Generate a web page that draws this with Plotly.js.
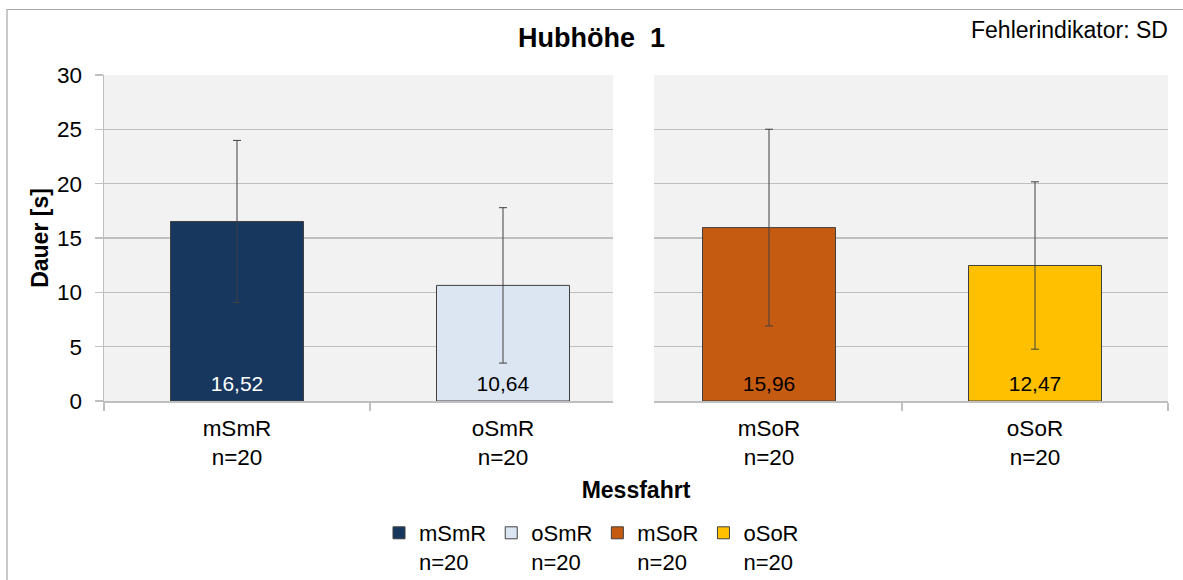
<!DOCTYPE html>
<html>
<head>
<meta charset="utf-8">
<script src="https://cdn.plot.ly/plotly-3.0.1.min.js"></script>
<style>
html,body{margin:0;padding:0;background:#fff;}
#chart{width:1183px;height:580px;}
</style>
</head>
<body>
<div id="chart"></div>
<script>
// ---- data ----
const categories = ["mSmR<br>n=20", "oSmR<br>n=20", "mSoR<br>n=20", "oSoR<br>n=20"];
const seriesNames = ["mSmR<br>n=20", "oSmR<br>n=20", "mSoR<br>n=20", "oSoR<br>n=20"];
const means = [16.52, 10.64, 15.96, 12.47];
const sds = [7.46, 7.15, 9.05, 7.70];
const barColors = ["#17375E", "#DCE6F2", "#C55A11", "#FFC000"];
const labelColors = ["#FFFFFF", "#000000", "#000000", "#000000"];
const yTicks = [0, 5, 10, 15, 20, 25, 30];

const FONT = "Liberation Sans, Arial, sans-serif";

const traces = categories.map((c, i) => ({
  type: "bar",
  name: seriesNames[i],
  x: [c],
  y: [means[i]],
  width: 0.5,
  marker: {color: barColors[i], line: {color: "#404040", width: 1}},
  error_y: {type: "data", array: [sds[i]], visible: true, color: "#404040", thickness: 1, width: 4},
  texttemplate: "<span style='font-size:21px'>%{y:.2f}</span><br>\u00a0",
  textposition: "inside",
  insidetextanchor: "start",
  textangle: 0,
  constraintext: "none",
  textfont: {family: FONT, size: 5, color: labelColors[i]},
  hoverinfo: "skip"
}));

const layout = {
  width: 1183,
  height: 580,
  margin: {l: 104, r: 15, t: 75, b: 179, autoexpand: false},
  paper_bgcolor: "#ffffff",
  plot_bgcolor: "#f2f2f2",
  separators: ",.",
  barmode: "overlay",
  showlegend: true,
  font: {family: FONT, color: "#000000"},
  title: {
    text: "<b>Hubhöhe\u00a0\u00a01</b>",
    x: 0.5, xref: "container", xanchor: "center",
    y: 1 - 38/580, yref: "container", yanchor: "middle",
    font: {family: FONT, size: 27, color: "#000"}
  },
  xaxis: {
    type: "category",
    categoryorder: "array",
    categoryarray: categories,
    range: [-0.5, 3.5],
    showgrid: false,
    showline: true,
    linecolor: "#bfbfbf",
    linewidth: 1.5,
    ticks: "outside",
    tickson: "boundaries",
    ticklen: 8,
    tickcolor: "#bfbfbf",
    tickwidth: 1.5,
    ticklabelstandoff: 6,
    tickfont: {family: FONT, size: 22.5, color: "#000"},
    title: {text: "<b>Messfahrt</b>", font: {family: FONT, size: 23, color: "#000"}, standoff: 13},
    automargin: false,
    fixedrange: true
  },
  yaxis: {
    range: [0, 30],
    tickvals: yTicks,
    showgrid: true,
    gridcolor: "#bfbfbf",
    gridwidth: 1.5,
    zeroline: false,
    showline: true,
    linecolor: "#bfbfbf",
    linewidth: 1.5,
    ticks: "outside",
    ticklen: 8,
    tickcolor: "#bfbfbf",
    tickwidth: 1.5,
    ticklabelstandoff: 8,
    tickfont: {family: FONT, size: 22.5, color: "#000"},
    title: {text: "<b>Dauer [s]</b>", font: {family: FONT, size: 23, color: "#000"}, standoff: 2},
    automargin: false,
    fixedrange: true
  },
  legend: {
    orientation: "h",
    xref: "container", yref: "container",
    x: 379/1183, xanchor: "left",
    y: 1 - 512/580, yanchor: "top",
    valign: "top",
    font: {family: FONT, size: 22, color: "#000"},
    itemclick: false, itemdoubleclick: false,
    traceorder: "normal"
  },
  annotations: [{
    text: "Fehlerindikator: SD",
    xref: "paper", yref: "paper",
    x: 1.002, xanchor: "right",
    y: (401-30)/326, yanchor: "middle",
    showarrow: false,
    font: {family: FONT, size: 23, color: "#000"}
  }],
  shapes: [
    {type: "rect", xref: "x", yref: "paper", x0: 1.4135, x1: 1.5677, y0: -0.045, y1: 1.01,
     fillcolor: "#ffffff", line: {width: 0}, layer: "above"},
    {type: "rect", xref: "paper", yref: "paper", x0: (7-104)/1064, x1: (1200-104)/1064,
     y0: (401-600)/326, y1: (401-9.5)/326, fillcolor: "rgba(0,0,0,0)",
     line: {color: "#a6a6a6", width: 1.2}, layer: "above"}
  ]
};

Plotly.newPlot("chart", traces, layout, {displayModeBar: false, staticPlot: true});
</script>
</body>
</html>
